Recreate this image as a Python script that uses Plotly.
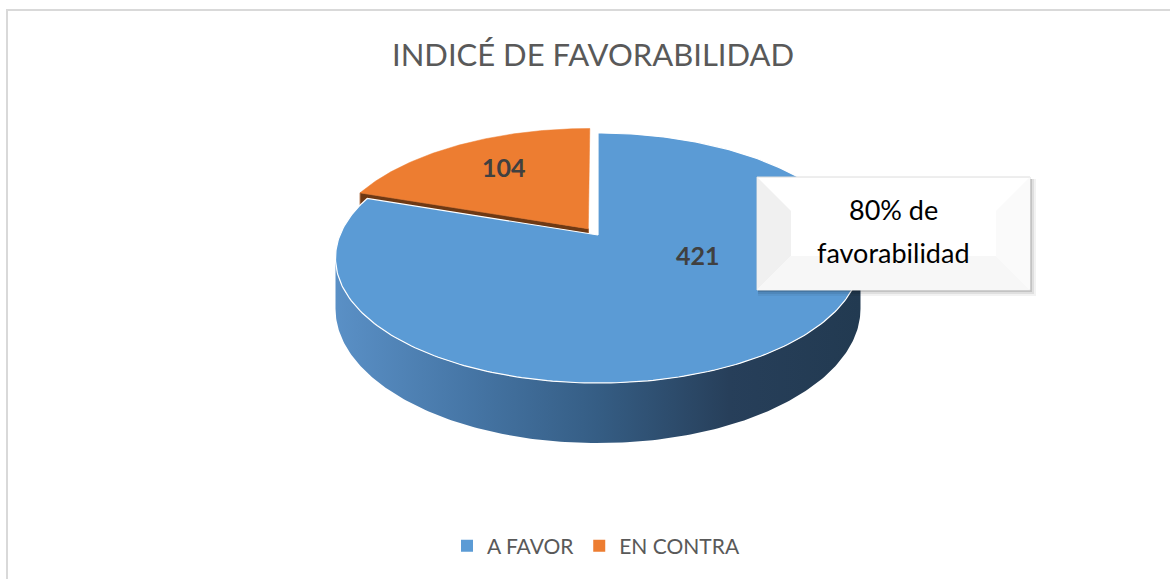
import numpy as np
import plotly.graph_objects as go

# ---------------- data ----------------
categories = ["A FAVOR", "EN CONTRA"]
values = [421, 104]
top_colors = ["#5B9BD5", "#ED7D31"]
title_text = "INDICÉ DE FAVORABILIDAD"
callout_lines = ["80% de", "favorabilidad"]

# ---------------- geometry (style) ----------------
W, H = 1170, 579
CX, CY = 598.0, 235.0     # projected centre of pie top
RX, RY = 258.0, 120.8     # radii
D = 5.43                  # perspective distance
DEPTH = 49.0              # thickness
EXPLODE = [0.0, 0.065]    # explosion per slice
FONT = "Lato"


def project(X, Z, drop=0.0):
    s = D / (D + Z)
    return CX + RX * X * s, CY - RY * Z * s + drop * s


total = float(sum(values))
bounds = np.concatenate([[0.0], np.cumsum(values) / total * 2 * np.pi])

fig = go.Figure()

slices = []
for i, v in enumerate(values):
    a, b = bounds[i], bounds[i + 1]
    mid = (a + b) / 2
    ex, ez = EXPLODE[i] * np.sin(mid), EXPLODE[i] * np.cos(mid)
    slices.append((a, b, ex, ez))

# --- orange (exploded) slice: visible radial face then top
a, b, ex, ez = slices[1]
cx0, cy0 = project(ex, ez)
cx1, cy1 = project(ex, ez, DEPTH)
px0, py0 = project(ex + np.sin(a), ez + np.cos(a))
px1, py1 = project(ex + np.sin(a), ez + np.cos(a), DEPTH)
fig.add_trace(go.Scatter(x=[cx0, px0, px1, cx1, cx0], y=[cy0, py0, py1, cy1, cy0],
                         fill="toself", fillcolor="#6e3914", mode="lines",
                         line=dict(color="#a0582a", width=1), hoverinfo="skip",
                         showlegend=False))
th = np.linspace(a, b, 120)
xs, ys = project(ex + np.sin(th), ez + np.cos(th))
fig.add_trace(go.Scatter(x=np.r_[cx0, xs, cx0], y=np.r_[cy0, ys, cy0],
                         fill="toself", fillcolor=top_colors[1], mode="lines",
                         line=dict(color=top_colors[1], width=0.5), hoverinfo="skip",
                         showlegend=False))

# --- blue slice: front wall then top
a, b, ex, ez = slices[0]
tt = np.linspace(0, 2 * np.pi, 3601)
sx, _ = project(np.sin(tt), np.cos(tt))
t_right = tt[:1800][np.argmax(sx[:1800])]
t_left = tt[1800:][np.argmin(sx[1800:])]
t1, t2 = max(a, t_right), min(b, t_left)
th = np.linspace(t1, t2, 200)
xt, yt = project(ex + np.sin(th), ez + np.cos(th))
xb, yb = project(ex + np.sin(th), ez + np.cos(th), DEPTH)
fig.add_trace(go.Scatter(x=np.r_[xt, xb[::-1], xt[0]], y=np.r_[yt, yb[::-1], yt[0]],
                         fill="toself", mode="lines", line=dict(width=0),
                         fillgradient=dict(type="horizontal",
                                           colorscale=[[0, "#5a90c6"], [0.25, "#4676a6"],
                                                       [0.5, "#355d84"], [0.75, "#273f5a"],
                                                       [1, "#223a51"]]),
                         hoverinfo="skip", showlegend=False))
th = np.linspace(a, b, 300)
xs, ys = project(ex + np.sin(th), ez + np.cos(th))
c0x, c0y = project(ex, ez)
fig.add_trace(go.Scatter(x=np.r_[c0x, xs, c0x], y=np.r_[c0y, ys, c0y],
                         fill="toself", fillcolor=top_colors[0], mode="lines",
                         line=dict(color="white", width=1.2), hoverinfo="skip",
                         showlegend=False))

# --- legend entries
for name, col in zip(categories, top_colors):
    fig.add_trace(go.Scatter(x=[None], y=[None], mode="markers", name=name,
                             marker=dict(symbol="square", size=9, color=col)))

# --- value labels
label_pos = [(698, 255), (504, 167)]
for (lx, ly), v in zip(label_pos, values):
    fig.add_annotation(x=lx, y=ly, text=f"<b>{v}</b>", showarrow=False,
                       font=dict(family=FONT, size=25, color="#404040"),
                       xanchor="center", yanchor="middle")

# --- callout box with shadow and bevel
bx0, by0, bx1, by1 = 757, 177, 1030, 290
shapes = []
for k, op in [(6, 0.05), (4, 0.08), (2, 0.12)]:
    shapes.append(dict(type="rect", x0=bx0 + 1, y0=by0 + 2, x1=bx1 + k, y1=by1 + k,
                       fillcolor=f"rgba(0,0,0,{op})", line=dict(width=0), layer="above"))
shapes.append(dict(type="rect", x0=bx0, y0=by0, x1=bx1, y1=by1, fillcolor="white",
                   line=dict(color="#dcdcdc", width=1), layer="above"))
bv = 34
shapes.append(dict(type="path", layer="above", line=dict(width=0), fillcolor="#f0f0f0",
                   path=f"M{bx0},{by0} L{bx0+bv},{by0+bv} L{bx0+bv},{by1-bv} L{bx0},{by1} Z"))
shapes.append(dict(type="path", layer="above", line=dict(width=0), fillcolor="#f7f7f7",
                   path=f"M{bx0},{by1} L{bx0+bv},{by1-bv} L{bx1-bv},{by1-bv} L{bx1},{by1} Z"))
shapes.append(dict(type="path", layer="above", line=dict(width=0), fillcolor="#fafafa",
                   path=f"M{bx1},{by0} L{bx1-bv},{by0+bv} L{bx1-bv},{by1-bv} L{bx1},{by1} Z"))
shapes.append(dict(type="rect", x0=bx0 + bv, y0=by0 + bv, x1=bx1 - bv, y1=by1 - bv,
                   fillcolor="white", line=dict(width=0), layer="above"))
# chart border
shapes.append(dict(type="rect", x0=7, y0=10, x1=1180, y1=590, fillcolor="rgba(0,0,0,0)",
                   line=dict(color="#d9d9d9", width=2), layer="above"))

for txt, ty in zip(callout_lines, [209, 252]):
    fig.add_annotation(x=(bx0 + bx1) / 2, y=ty, text=txt, showarrow=False,
                       font=dict(family=FONT, size=27, color="#000000"),
                       xanchor="center", yanchor="middle")

fig.update_layout(
    width=W, height=H, margin=dict(l=0, r=0, t=0, b=0),
    paper_bgcolor="white", plot_bgcolor="white",
    shapes=shapes,
    title=dict(text=title_text, x=593 / W, xanchor="center", y=1 - 55 / H, yanchor="middle",
               font=dict(family=FONT, size=31, color="#595959")),
    xaxis=dict(range=[0, W], visible=False, fixedrange=True),
    yaxis=dict(range=[H, 0], visible=False, fixedrange=True),
    legend=dict(orientation="h", x=596 / W, xanchor="center", y=1 - 546 / H, yanchor="middle",
                font=dict(family=FONT, size=21, color="#595959"),
                bgcolor="rgba(0,0,0,0)", itemsizing="constant"),
    showlegend=True,
)

fig.write_html("out.html", config={"displayModeBar": False},
               post_script="document.body.style.margin='0';document.body.style.overflow='hidden';")
